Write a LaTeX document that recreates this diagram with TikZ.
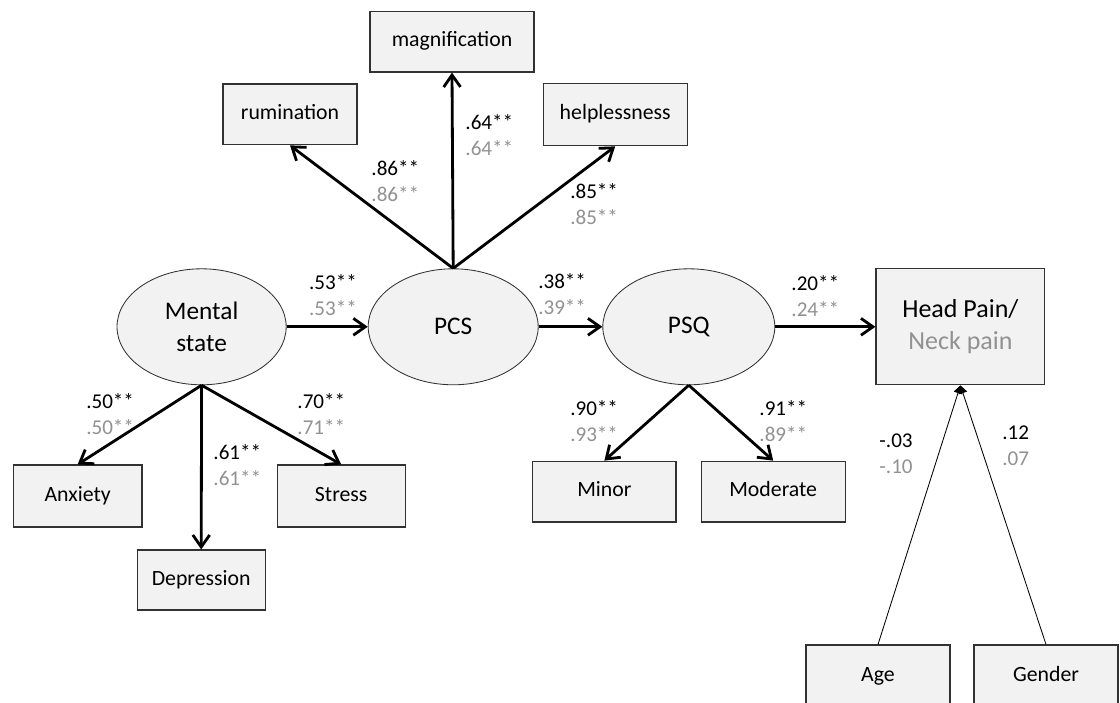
\documentclass[tikz,border=0pt]{standalone}
\usepackage{fontspec}
\setmainfont{Carlito}
\usetikzlibrary{arrows.meta,shapes.geometric}
\definecolor{boxgray}{RGB}{242,242,242}
\definecolor{edgegray}{RGB}{50,50,50}
\definecolor{coefgray}{RGB}{145,145,145}
\tikzset{
  latent/.style={ellipse,draw=edgegray,line width=0.6pt,fill=boxgray,minimum width=42.3mm,
                 minimum height=29mm,inner sep=0pt,align=center,font=\fontsize{18}{22.7}\selectfont},
  indicator/.style={rectangle,draw=edgegray,line width=0.8pt,fill=boxgray,minimum width=32mm,
                    minimum height=15.3mm,inner sep=0pt,text height=2.1ex,text depth=0.6ex,
                    font=\fontsize{15.5}{18}\selectfont},
  outcome/.style={indicator,minimum width=42.2mm,minimum height=29mm,align=center,
                  text height={},text depth={},font=\fontsize{18.5}{22.7}\selectfont},
  coef/.style={anchor=west,inner sep=0pt,align=left,font=\fontsize{15}{18.5}\selectfont},
  load/.style={-{Straight Barb[length=3mm,width=4.2mm]},line width=2pt,black},
  covar/.style={-{Triangle[length=2mm,width=2.2mm]},line width=0.6pt,black},
}
\newcommand{\est}[2]{#1\\\textcolor{coefgray}{#2}}

\begin{document}
\begin{tikzpicture}[x=1cm,y=1cm]
  \path[use as bounding box] (0,0) rectangle (28,17.55);

  % latent variables and outcome
  \node[latent] (MS) at (5.04,9.38) {Mental\\state};
  \node[latent,minimum width=42.5mm] (PCS) at (11.33,9.38) {PCS};
  \node[latent,minimum width=43mm] (PSQ) at (17.22,9.38) {PSQ};
  \node[outcome] (HP) at (24.01,9.38) {Head Pain/\\\textcolor{coefgray}{Neck pain}};

  % indicators
  \node[indicator,minimum width=41mm,minimum height=15.2mm] (MAG) at (11.3,16.51) {magnification};
  \node[indicator,minimum width=33.5mm,minimum height=15.2mm] (RUM) at (7.25,14.69) {rumination};
  \node[indicator,minimum width=36mm,minimum height=15.5mm] (HLP) at (15.38,14.68) {helplessness};
  \node[indicator,minimum width=32.2mm,minimum height=15.5mm] (ANX) at (1.94,5.15) {Anxiety};
  \node[indicator,minimum width=32mm,minimum height=15.5mm] (STR) at (8.53,5.15) {Stress};
  \node[indicator,minimum width=32mm,minimum height=15mm] (DEP) at (5.03,3.05) {Depression};
  \node[indicator,minimum width=35.8mm,minimum height=15.2mm] (MIN) at (15.11,5.26) {Minor};
  \node[indicator,minimum width=36mm,minimum height=15.2mm] (MOD) at (19.33,5.26) {Moderate};
  \node[indicator,minimum width=36mm,minimum height=15.5mm] (AGE) at (21.95,0.65) {Age};
  \node[indicator,minimum width=36mm,minimum height=15.5mm] (GEN) at (26.15,0.65) {Gender};

  % paths
  \draw[load] (MS.east)--(PCS.west);
  \draw[load] (PCS.east)--(PSQ.west);
  \draw[load] (PSQ.east)--(HP.west);
  \draw[load] (PCS.north)--(MAG.south);
  \draw[load] (PCS.north)--(RUM.south);
  \draw[load] (PCS.north)--(HLP.south);
  \draw[load] (MS.south)--(ANX.north);
  \draw[load] (MS.south)--(DEP.north);
  \draw[load] (MS.south)--(STR.north);
  \draw[load] (PSQ.south)--(MIN.north);
  \draw[load] (PSQ.south)--(MOD.north);
  \draw[covar] (AGE.north)--(HP.south);
  \draw[covar] (GEN.north)--(HP.south);

  % estimates
  \node[coef] (cMP) at (7.72,10.18) {\est{.53**}{.53**}};
  \node[coef] (cRU) at (9.28,13.03) {\est{.86**}{.86**}};
  \node[coef] (cMA) at (11.63,14.18) {\est{.64**}{.64**}};
  \node[coef] (cHE) at (14.25,12.45) {\est{.85**}{.85**}};
  \node[coef] (cPP) at (13.45,10.2) {\est{.38**}{.39**}};
  \node[coef] (cPH) at (19.78,10.15) {\est{.20**}{.24**}};
  \node[coef] (cAN) at (2.15,7.2) {\est{.50**}{.50**}};
  \node[coef] (cDE) at (5.33,5.93) {\est{.61**}{.61**}};
  \node[coef] (cST) at (7.43,7.2) {\est{.70**}{.71**}};
  \node[coef] (cMI) at (14.25,7.03) {\est{.90**}{.93**}};
  \node[coef] (cMO) at (18.98,7.03) {\est{.91**}{.89**}};
  \node[coef] (cAG) at (21.98,6.2) {\est{-.03}{-.10}};
  \node[coef] (cGE) at (25.05,6.4) {\est{.12}{.07}};
\end{tikzpicture}
\end{document}
